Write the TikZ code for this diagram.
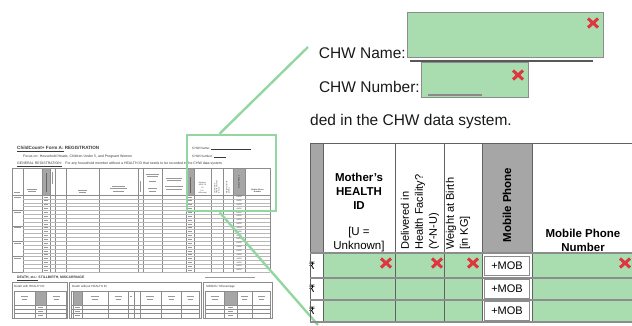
\documentclass[tikz,border=0pt]{standalone}
\usepackage{fontspec}
\setmainfont{Liberation Sans}
\newfontfamily\rupeefont{DejaVu Sans}
\usepackage{tikz}
\usetikzlibrary{calc}
\definecolor{FormGreen}{HTML}{A9DDB0}
\definecolor{ZoomGreen}{HTML}{94D6A2}
\definecolor{CrossRed}{HTML}{E0343E}
\definecolor{HeadGray}{HTML}{A6A6A6}
\definecolor{RuleGray}{HTML}{8C8C8C}
\definecolor{FormInk}{HTML}{3A3A3A}
\newcommand{\fsz}[2]{\fontsize{#1}{#2}\selectfont}
\tikzset{
  zoomline/.style={draw=ZoomGreen,line width=2.4pt},
  zoomframe/.style={draw=ZoomGreen,line width=2.6pt,inner sep=0pt},
  fieldbox/.style={draw=RuleGray,fill=FormGreen,line width=0.7pt,inner sep=0pt},
  cellrule/.style={draw=RuleGray,line width=1.6pt},
  colrule/.style={draw=FormInk!80,line width=0.8pt},
  bigtext/.style={inner sep=0pt,font=\fsz{15.5}{18},text=black!90},
  headtext/.style={inner sep=0pt,align=center,font=\bfseries\fsz{11.5}{14}},
  sidetext/.style={inner sep=0pt,align=left,rotate=90,anchor=west,font=\fsz{11}{14}},
  mobbox/.style={draw=RuleGray,fill=white,line width=0.7pt,minimum width=45pt,
    minimum height=19pt,inner sep=0pt,font=\fsz{11}{13}},
  formtext/.style={inner sep=0pt,anchor=base west,text=FormInk},
  tinytext/.style={inner sep=0pt,align=center,text=FormInk,font=\fsz{1.9}{2.2}},
  thinrule/.style={draw=black!45,line width=0.35pt},
  blob/.style={draw=black!40,line width=1pt},
  redcross/.pic={\draw[CrossRed,line width=3pt] (-5,-4.5) -- (5,4.5) (-5,4.5) -- (5,-4.5);}
}

\begin{document}
\begin{tikzpicture}[x=1pt,y=-1pt]
  \useasboundingbox (0,0) rectangle (632,325);

  % small copy of the whole form
  \node[formtext,font=\bfseries\fsz{4.6}{5.5}] (ftitle) at (17,149.5) {\underline{ChildCount+ Form A:} REGISTRATION};
  \node[formtext,font=\fsz{3.5}{4}] (ffocus) at (23,157) {Focus on: Household Heads, Children Under 5, and Pregnant Women};
  \node[formtext,font=\fsz{3.5}{4}] (fgeneral) at (17,164.5) {\underline{GENERAL REGISTRATION:}\quad For any household member without a HEALTH ID that needs to be recorded in the CHW data system.};
  \node[formtext,font=\fsz{3.2}{4}] (fname) at (192,149) {CHW Name: \rule{40pt}{0.3pt}};
  \node[formtext,font=\fsz{3.2}{4}] (fnumber) at (192,157) {CHW Number: \rule{12pt}{0.3pt}};

  \fill[HeadGray] (42,168) rectangle (50,195);
  \fill[HeadGray] (186,168) rectangle (194,195);
  \fill[HeadGray] (233,168) rectangle (245,195);
  \foreach \x in {12,23,42,50,55,66,99,138,143,162,186,194,211,223,233,245,270}
    \draw[thinrule] (\x,168) -- (\x,272);
  \draw[thinrule] (12,168) -- (270,168);
  \draw[thinrule] (12,195) -- (270,195);
  \foreach \i in {1,...,20}
    \draw[thinrule,draw=black!28] (23,195+3.85*\i) -- (270,195+3.85*\i);
  \foreach \i in {4,8,12,16,20}
    \draw[thinrule] (12,195+3.85*\i) -- (23,195+3.85*\i);
  \foreach \i in {1,...,20} {
    \draw[blob,line width=0.7pt] (44,193.1+3.85*\i) -- (48,193.1+3.85*\i);
    \draw[blob,line width=0.7pt] (188,193.1+3.85*\i) -- (192,193.1+3.85*\i);
    \node[tinytext] (tmob\i) at (239,193.1+3.85*\i) {+MOB};
  }
  \foreach \i in {1,5,9,13,17}
    \draw[blob,line width=0.7pt] (14,193.1+3.85*\i) -- (21,193.1+3.85*\i);

  % header marks of the small form
  \draw[blob] (14,192) -- (20,192);
  \draw[blob] (27,189) -- (37,189) (28,191.5) -- (36,191.5);
  \draw[blob,draw=black!60] (46,173) -- (46,192);
  \draw[blob] (52.5,172) -- (52.5,184);
  \draw[blob] (78,190) -- (87,190) (79,192.5) -- (86,192.5);
  \draw[blob] (112,186) -- (125,186) (110,188.5) -- (127,188.5) (113,191) -- (124,191);
  \draw[blob] (140.5,181) -- (140.5,192);
  \draw[blob] (146,174) -- (159,174) (147,176.5) -- (158,176.5) (149,181) -- (156,181)
    (148,188) -- (157,188) (149,191) -- (156,191);
  \draw[blob] (166,178) -- (182,178) (167,180.5) -- (181,180.5) (165,186) -- (183,186)
    (166,189) -- (182,189);
  \draw[blob,draw=black!60] (190,177) -- (190,193);
  \node[tinytext,anchor=south] (tmhid) at (202.5,194) {Mother's\\HEALTH\\ID\\[1pt]{[U =}\\Unknown]};
  \node[tinytext,rotate=90,anchor=west,align=left] (tdeliv) at (217,194) {Delivered in\\Health Facility?\\(Y-N-U)};
  \node[tinytext,rotate=90,anchor=west,align=left] (tweight) at (228,194) {Weight at Birth\\{[in KG]}};
  \node[tinytext,rotate=90,font=\bfseries\fsz{1.9}{2.2}] (tmobhead) at (239,182) {Mobile Phone};
  \node[tinytext,anchor=south,font=\bfseries\fsz{1.9}{2.2}] (tmobnum) at (257.5,193) {Mobile Phone\\Number};

  % death and stillbirth part of the small form
  \node[formtext,font=\bfseries\fsz{3.4}{4}] (deathhd) at (17,278.5) {\underline{DEATH, etc.:} STILLBIRTH, MISCARRIAGE};
  \draw[blob] (205,277) -- (255,277);
  \draw[thinrule,line width=0.7pt] (12,282) rectangle (67,318);
  \draw[thinrule,line width=0.9pt] (69,282) rectangle (201,318);
  \draw[thinrule,line width=0.9pt] (203,282) rectangle (272,318);
  \node[formtext,font=\fsz{3}{4}] (dwith) at (14,287.5) {Death with HEALTH ID};
  \node[formtext,font=\fsz{3}{4}] (dwithout) at (72,287.5) {Death without HEALTH ID};
  \node[formtext,font=\fsz{3}{4}] (dstill) at (206,287.5) {Stillbirth / Miscarriage};
  \fill[HeadGray] (35,291) rectangle (46,305);
  \fill[HeadGray] (73,291) rectangle (82,305);
  \fill[HeadGray] (224,291) rectangle (237,305);
  \foreach \a/\b in {14/66,71/199,205/270} {
    \foreach \y in {291,305,309.3,313.6}
      \draw[thinrule] (\a,\y) -- (\b,\y);
  }
  \foreach \x in {14,35,46,66,71,73,82,108,128,134,140,161,181,199,205,224,237,252,270}
    \draw[thinrule] (\x,291) -- (\x,318);
  \foreach \x/\w in {24.5/7,56/7,95/8,118/7,131/2,150/8,171/7,190/7,214.5/8,244.5/7,261/7} {
    \draw[blob] (\x-\w/2,296.5) -- (\x+\w/2,296.5) (\x-\w/2+1,299) -- (\x+\w/2-1,299);
  }
  \foreach \x in {40.5,77.5,230.5}
    \foreach \y in {307.1,311.4,315.8}
      \draw[blob,line width=0.7pt] (\x-2.5,\y) -- (\x+2.5,\y);

  % zoom frame and guide lines
  \node[zoomframe,minimum width=89pt,minimum height=76pt] (thumb) at (231.5,173) {};
  \coordinate (nameend) at (308,47);
  \coordinate (tableend) at (318,325);
  \draw[zoomline] ($(thumb.north west)!0.37!(thumb.north east)$) -- (nameend);
  \draw[zoomline] ($(thumb.south west)!0.37!(thumb.south east)$) -- (tableend);

  % enlarged CHW fields
  \node[fieldbox,anchor=north west,minimum width=196pt,minimum height=45pt] (namebox) at (407,12) {};
  \node[fieldbox,anchor=north west,minimum width=107pt,minimum height=35pt] (numbox) at (421,62) {};
  \draw[draw=FormInk!85,line width=1.8pt] (410,61) -- (593,61);
  \draw[draw=FormInk!60,line width=1.2pt] (428,95) -- (482,95);
  \pic at (593,23) {redcross};
  \pic at (518,75) {redcross};
  \node[bigtext,anchor=base east] (namelbl) at (406,58) {CHW Name:};
  \node[bigtext,anchor=base east] (numlbl) at (420,92) {CHW Number:};
  \node[bigtext,anchor=base west] (dedlbl) at (310,125) {ded in the CHW data system.};

  % enlarged part of the table
  \begin{scope}
    \clip (309,140) rectangle (632,325);
    \fill[HeadGray] (310,143) rectangle (323,253);
    \fill[HeadGray] (482,143) rectangle (532,253);
    \fill[FormGreen] (323,253) rectangle (482,322);
    \fill[FormGreen] (532,253) rectangle (632,322);
    \foreach \y [count=\i] in {265.5,289,311}
      \node[font=\rupeefont\fsz{10}{12},inner sep=0pt] (rupee\i) at (312,\y) {₹};
  \end{scope}
  \draw[colrule] (310,143) -- (632,143);
  \foreach \x in {310,323,395,444,482,532}
    \draw[colrule] (\x,143) -- (\x,322);
  \foreach \y in {253,278,300,322}
    \draw[cellrule] (310,\y) -- (632,\y);
  \foreach \y [count=\i] in {265.5,289,311}
    \node[mobbox] (mob\i) at (507,\y) {+MOB};

  \node[headtext,anchor=south] (mhid) at (359,252) {Mother's\\HEALTH\\ID\\[12pt]{\mdseries[U =}\\{\mdseries Unknown]}};
  \node[sidetext] (deliv) at (420,250) {Delivered in\\Health Facility?\\(Y-N-U)};
  \node[sidetext] (weight) at (458,250) {Weight at Birth\\{[in KG]}};
  \node[headtext,rotate=90] (mobhead) at (507,205) {Mobile Phone};
  \node[headtext,anchor=south] (mobnum) at (583,252) {Mobile Phone\\Number};

  \pic at (386,263) {redcross};
  \pic at (437,263) {redcross};
  \pic at (473,263) {redcross};
  \pic at (625,263) {redcross};
\end{tikzpicture}
\end{document}
